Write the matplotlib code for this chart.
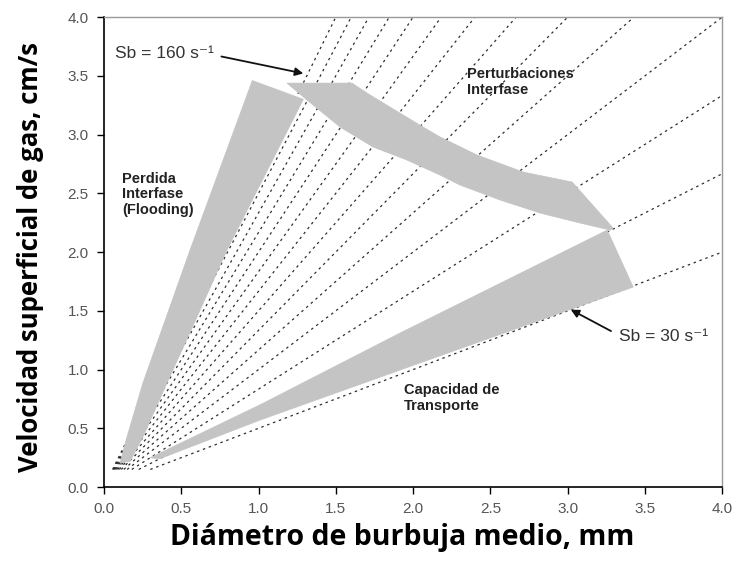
import matplotlib
matplotlib.use('Agg')
import matplotlib.pyplot as plt
from matplotlib.patches import Polygon

# superficie especifica de burbuja, s-1 (Sb = 6 Jg / Db)
sb_values = [30, 40, 50, 60, 70, 80, 90, 100, 110, 120, 130, 140, 150, 160]
jg_start = 0.15

# zona gris izquierda (flooding)
flood_x = [0.104, 0.149, 0.252, 0.557, 0.96, 1.29, 0.796, 0.602, 0.408, 0.252, 0.17]
flood_y = [0.204, 0.426, 0.885, 2.017, 3.46, 3.30, 2.017, 1.447, 0.885, 0.426, 0.22]

# zona gris superior (perturbaciones)
pert_x = [1.184, 1.605, 1.702, 1.851, 2.065, 2.175, 2.414, 2.712, 3.029, 3.294,
          3.275, 3.081, 2.822, 2.563, 2.304, 2.175, 1.961, 1.741, 1.528, 1.314]
pert_y = [3.438, 3.438, 3.353, 3.234, 3.064, 2.979, 2.826, 2.681, 2.596, 2.204,
          2.187, 2.247, 2.332, 2.443, 2.570, 2.655, 2.783, 2.894, 3.064, 3.294]

# zona gris inferior (capacidad de transporte)
trans_x = [0.30, 1.01, 1.916, 3.256, 3.424, 1.916, 1.01, 0.36]
trans_y = [0.25, 0.70, 1.311, 2.187, 1.702, 0.996, 0.57, 0.24]

xticks = [0.0, 0.5, 1.0, 1.5, 2.0, 2.5, 3.0, 3.5, 4.0]
yticks = [0.0, 0.5, 1.0, 1.5, 2.0, 2.5, 3.0, 3.5, 4.0]

fig = plt.figure(figsize=(7.37, 5.69), dpi=100)
ax = fig.add_axes([0.141, 0.144, 0.839, 0.826])

# lineas Sb constante: Jg [cm/s] = Sb * Db [mm] / 60
for sb in sb_values:
    slope = sb / 60.0
    x0 = jg_start / slope
    x1 = min(4.0, 4.0 / slope)
    ax.plot([x0, x1], [slope * x0, slope * x1], color='#2e2e2e', lw=0.9,
            dashes=(2.0, 3.0), zorder=2)

gray = '#c4c4c4'
for px, py in [(flood_x, flood_y), (pert_x, pert_y), (trans_x, trans_y)]:
    ax.add_patch(Polygon(list(zip(px, py)), closed=True, facecolor=gray,
                         edgecolor=gray, lw=0.5, zorder=3))

ax.set_xlim(0, 4.0)
ax.set_ylim(0, 4.0)
ax.set_xticks(xticks)
ax.set_yticks(yticks)
ax.set_xticklabels(['%.1f' % v for v in xticks])
ax.set_yticklabels(['%.1f' % v for v in yticks])
ax.tick_params(direction='out', length=5, width=1, colors='black',
               labelcolor='#555555', labelsize=11, pad=6)
for lab in ax.get_xticklabels() + ax.get_yticklabels():
    lab.set_fontfamily('Liberation Sans')

for side in ['left', 'bottom']:
    ax.spines[side].set_color('black')
    ax.spines[side].set_linewidth(1.2)
for side in ['top', 'right']:
    ax.spines[side].set_color('#999999')
    ax.spines[side].set_linewidth(1.0)

lbl = dict(fontfamily='Liberation Sans', fontweight='bold', fontsize=10.5,
           color='#222222', linespacing=1.15, zorder=5)
ax.text(0.12, 2.49, 'Perdida\nInterfase\n(Flooding)', ha='left', va='center', **lbl)
ax.text(2.35, 3.45, 'Perturbaciones\nInterfase', ha='left', va='center', **lbl)
ax.text(1.94, 0.76, 'Capacidad de\nTransporte', ha='left', va='center', **lbl)

sbf = dict(fontfamily=['Liberation Sans', 'DejaVu Sans'], fontsize=12.5,
           color='#333333')
ax.annotate('Sb = 160 s\u207b\u00b9', xy=(1.29, 3.52), xytext=(0.07, 3.69),
            ha='left', va='center', zorder=6,
            arrowprops=dict(arrowstyle='-|>', color='#111111', lw=1.3,
                            mutation_scale=12, shrinkA=0, shrinkB=0,
                            relpos=(1.08, 0.3)), **sbf)
ax.annotate('Sb = 30 s\u207b\u00b9', xy=(3.02, 1.51), xytext=(3.33, 1.28),
            ha='left', va='center', zorder=6,
            arrowprops=dict(arrowstyle='-|>', color='#111111', lw=1.3,
                            mutation_scale=12, shrinkA=4, shrinkB=0,
                            relpos=(0.0, 0.6)), **sbf)

fig.text(0.546, 0.056, 'Diámetro de burbuja medio, mm', ha='center', va='center',
         fontfamily='Open Sans', fontweight='bold', fontsize=20.5, color='black')
fig.text(0.041, 0.548, 'Velocidad superficial de gas, cm/s', ha='center', va='center',
         rotation=90, fontfamily='Open Sans', fontweight='bold', fontsize=18.5, color='black')

fig.savefig('out.png', dpi=100)
